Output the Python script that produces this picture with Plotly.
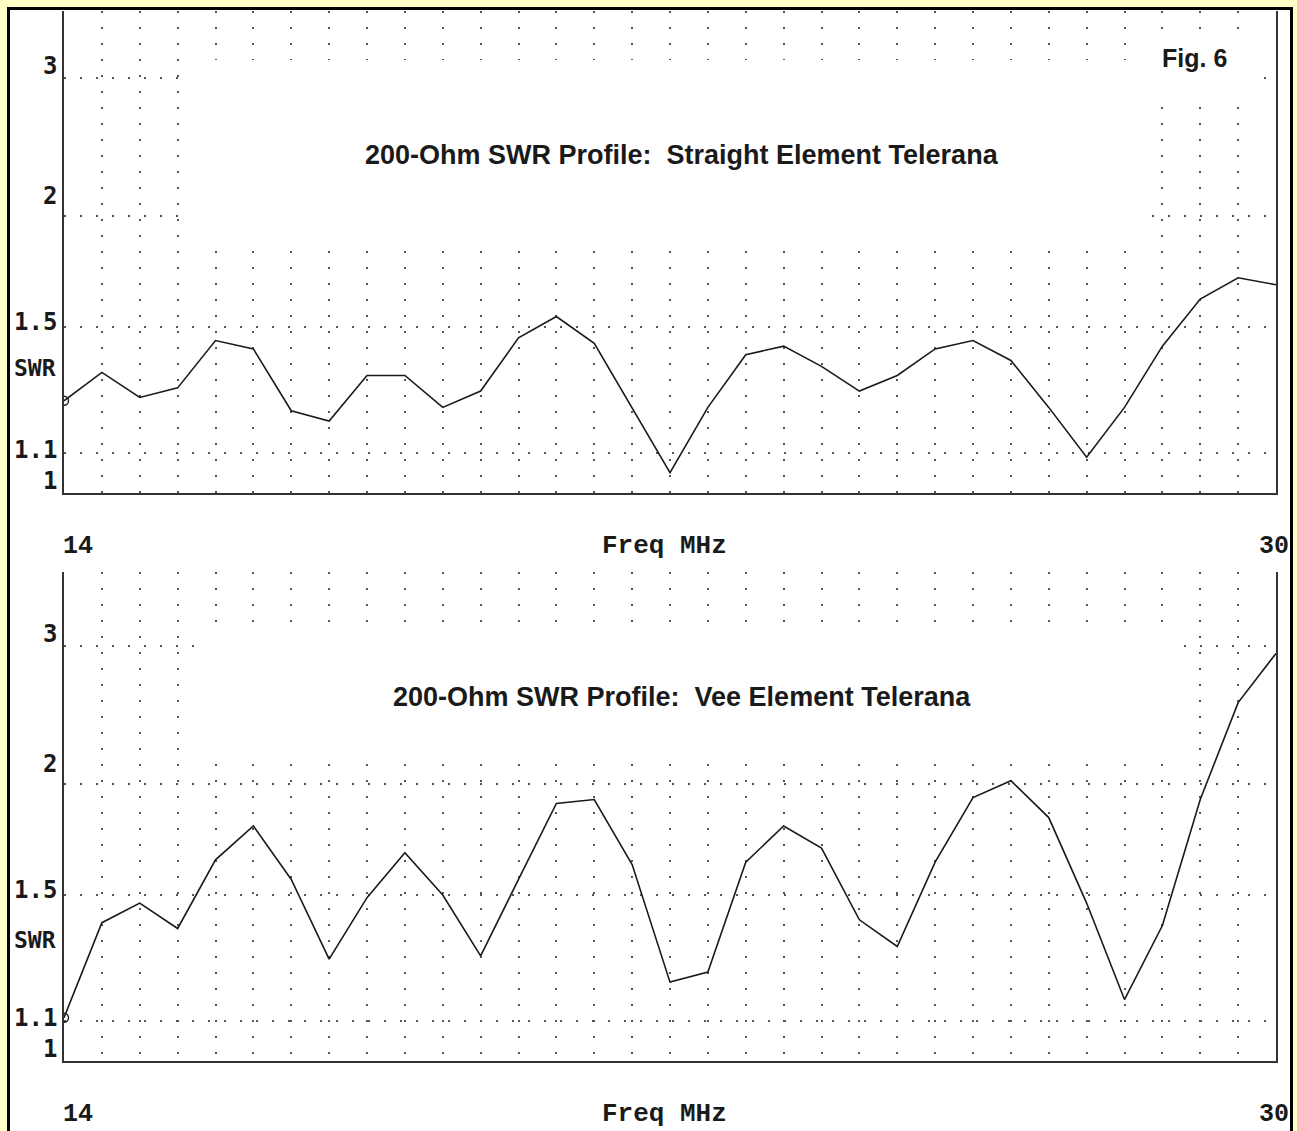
import plotly.graph_objects as go
from plotly.subplots import make_subplots

# ---------------- data ----------------
freq_mhz = [14.0, 14.5, 15.0, 15.5, 16.0, 16.5, 17.0, 17.5, 18.0, 18.5, 19.0,
            19.5, 20.0, 20.5, 21.0, 21.5, 22.0, 22.5, 23.0, 23.5, 24.0, 24.5,
            25.0, 25.5, 26.0, 26.5, 27.0, 27.5, 28.0, 28.5, 29.0, 29.5, 30.0]

swr_straight = [1.25, 1.34, 1.26, 1.29, 1.45, 1.42, 1.22, 1.19, 1.33, 1.33, 1.23,
                1.28, 1.46, 1.54, 1.44, 1.23, 1.05, 1.23, 1.40, 1.43, 1.36, 1.28,
                1.33, 1.42, 1.45, 1.38, 1.23, 1.09, 1.23, 1.43, 1.61, 1.70, 1.67]

swr_vee = [1.11, 1.40, 1.47, 1.38, 1.64, 1.79, 1.56, 1.28, 1.49, 1.67, 1.50,
           1.29, 1.56, 1.90, 1.92, 1.62, 1.21, 1.24, 1.63, 1.79, 1.69, 1.41,
           1.32, 1.63, 1.93, 2.02, 1.83, 1.47, 1.16, 1.39, 1.92, 2.52, 2.93]

swr_grid_ticks = [1.1, 1.5, 2, 3]
swr_label_ticks = [1, 1.1, 1.5, 2, 3]
swr_label_text = ["1", "1.1", "1.5", "2", "3"]
freq_labels = ["14", "30"]

titles = ["200-Ohm SWR Profile:\u00a0 Straight Element Telerana",
          "200-Ohm SWR Profile:\u00a0 Vee Element Telerana"]
fig_label = "Fig. 6"
x_title = "Freq MHz"
y_title = "SWR"


def rho(s):
    return (s - 1.0) / (s + 1.0)


# ---------------- layout geometry (pixels) ----------------
W, H = 1297, 1131
L, R = 64, 1276
T_TOP, B_TOP = 11, 493
T_BOT, B_BOT = 572, 1061
PX_PER_RHO = 830.0
X0, X1 = freq_mhz[0], freq_mhz[-1]

def pxp(px):
    return (px - L) / (R - L)

def pyp(py):
    return (B_BOT - py) / (B_BOT - T_TOP)

def dx(px):
    return X0 + (px - L) / (R - L) * (X1 - X0)

def dy(py, bottom):
    return (bottom - py) / PX_PER_RHO

# label vertical shifts (px, upward) mimicking the original character grid
label_shift = [12, 3, 5, 20, 12]

INK = "#1a1a1a"
GRID = "#555555"
DASH = "2px,14px"
YELLOW = "#FFFFC8"
SANS_N = "Liberation Sans Narrow, Arial Narrow, Liberation Sans, sans-serif"

fig = make_subplots(rows=2, cols=1)

panels = [
    dict(swr=swr_straight, row=1, top=T_TOP, bot=B_TOP, title=titles[0],
         title_y=155, masks=[(192, 60, 1150, 240), (1150, 30, 1262, 95)]),
    dict(swr=swr_vee, row=2, top=T_BOT, bot=B_BOT, title=titles[1],
         title_y=697, masks=[(207, 631, 1170, 760)]),
]

annotations = []
shapes = []

# page frame
shapes.append(dict(type="rect", xref="paper", yref="paper",
                   x0=pxp(8.5), x1=pxp(1291.5), y0=pyp(1140), y1=pyp(8.5),
                   fillcolor="white", line=dict(color="black", width=3),
                   layer="below"))

for i, p in enumerate(panels):
    r = p["row"]
    xa = "x" if r == 1 else "x2"
    ya = "y" if r == 1 else "y2"
    yvals = [rho(s) for s in p["swr"]]
    fig.add_trace(go.Scatter(x=freq_mhz, y=yvals, mode="lines",
                             line=dict(color=INK, width=1.6),
                             hoverinfo="skip", showlegend=False), row=r, col=1)
    fig.add_trace(go.Scatter(x=freq_mhz[:1], y=yvals[:1], mode="markers",
                             marker=dict(symbol="circle-open", size=9,
                                         color=INK, line=dict(width=1.4)),
                             hoverinfo="skip", showlegend=False), row=r, col=1)

    ytop = (p["bot"] - p["top"]) / PX_PER_RHO
    fig.update_xaxes(range=[X0, X1], tick0=X0, dtick=0.5, showgrid=True,
                     gridcolor=GRID, gridwidth=1.5, griddash=DASH,
                     showticklabels=False, ticks="", zeroline=False,
                     showline=True, linecolor="#333333", linewidth=2,
                     mirror=False, row=r, col=1)
    fig.update_yaxes(range=[0, ytop], tickmode="array",
                     tickvals=[rho(s) for s in swr_grid_ticks],
                     showgrid=True, gridcolor=GRID, gridwidth=1.5, griddash=DASH,
                     showticklabels=False, ticks="", zeroline=False,
                     showline=True, linecolor="#333333", linewidth=2,
                     mirror=True, row=r, col=1)

    # white masks behind the text blocks (hide grid dots)
    for (mx0, my0, mx1, my1) in p["masks"]:
        shapes.append(dict(type="rect", xref=xa, yref=ya,
                           x0=dx(mx0), x1=dx(mx1),
                           y0=dy(my1, p["bot"]), y1=dy(my0, p["bot"]),
                           fillcolor="white", line=dict(width=0),
                           layer="between"))

    # y labels
    for s, txt, sh in zip(swr_label_ticks, swr_label_text, label_shift):
        annotations.append(dict(xref="paper", yref=ya, x=pxp(59), y=rho(s),
                                text=txt, showarrow=False, xanchor="right",
                                yanchor="middle", yshift=sh,
                                font=dict(family="DejaVu Sans Mono", size=24,
                                          color=INK, weight="bold")))
    # SWR label
    annotations.append(dict(xref="paper", yref="paper", x=pxp(12),
                            y=pyp(p["bot"] - 125 if r == 1 else p["bot"] - 121),
                            text=y_title, showarrow=False, xanchor="left",
                            yanchor="middle",
                            font=dict(family="DejaVu Sans Mono", size=23,
                                      color=INK, weight="bold")))
    # x labels
    base = p["bot"] + 53
    annotations.append(dict(xref="paper", yref="paper", x=pxp(61), y=pyp(base),
                            text=freq_labels[0], showarrow=False,
                            xanchor="left", yanchor="middle",
                            font=dict(family="Liberation Mono", size=25,
                                      color=INK, weight="bold")))
    annotations.append(dict(xref="paper", yref="paper", x=pxp(1291), y=pyp(base),
                            text=freq_labels[1], showarrow=False,
                            xanchor="right", yanchor="middle",
                            font=dict(family="Liberation Mono", size=25,
                                      color=INK, weight="bold")))
    annotations.append(dict(xref="paper", yref="paper", x=pxp(664), y=pyp(base),
                            text=x_title, showarrow=False,
                            xanchor="center", yanchor="middle",
                            font=dict(family="Liberation Mono", size=26,
                                      color=INK, weight="bold")))
    # title
    annotations.append(dict(xref="paper", yref="paper", x=pxp(682),
                            y=pyp(p["title_y"]), text=p["title"],
                            showarrow=False, xanchor="center", yanchor="middle",
                            font=dict(family=SANS_N, size=27, color=INK,
                                      weight="bold")))

annotations.append(dict(xref="paper", yref="paper", x=pxp(1194), y=pyp(58),
                        text=fig_label, showarrow=False, xanchor="center",
                        yanchor="middle",
                        font=dict(family=SANS_N, size=25, color=INK,
                                  weight="bold")))

fig.update_layout(
    width=W, height=H,
    margin=dict(l=L, r=W - R, t=T_TOP, b=H - B_BOT, pad=0),
    paper_bgcolor=YELLOW, plot_bgcolor="white",
    showlegend=False,
    annotations=annotations, shapes=shapes,
    xaxis=dict(domain=[0, 1], anchor="y"),
    yaxis=dict(domain=[(B_BOT - B_TOP) / (B_BOT - T_TOP), 1.0], anchor="x"),
    xaxis2=dict(domain=[0, 1], anchor="y2"),
    yaxis2=dict(domain=[0, (B_BOT - T_BOT) / (B_BOT - T_TOP)], anchor="x2"),
)

fig.write_html(
    "out.html",
    config={"displayModeBar": False},
    post_script="document.body.style.margin='0';document.body.style.overflow='hidden';",
)
